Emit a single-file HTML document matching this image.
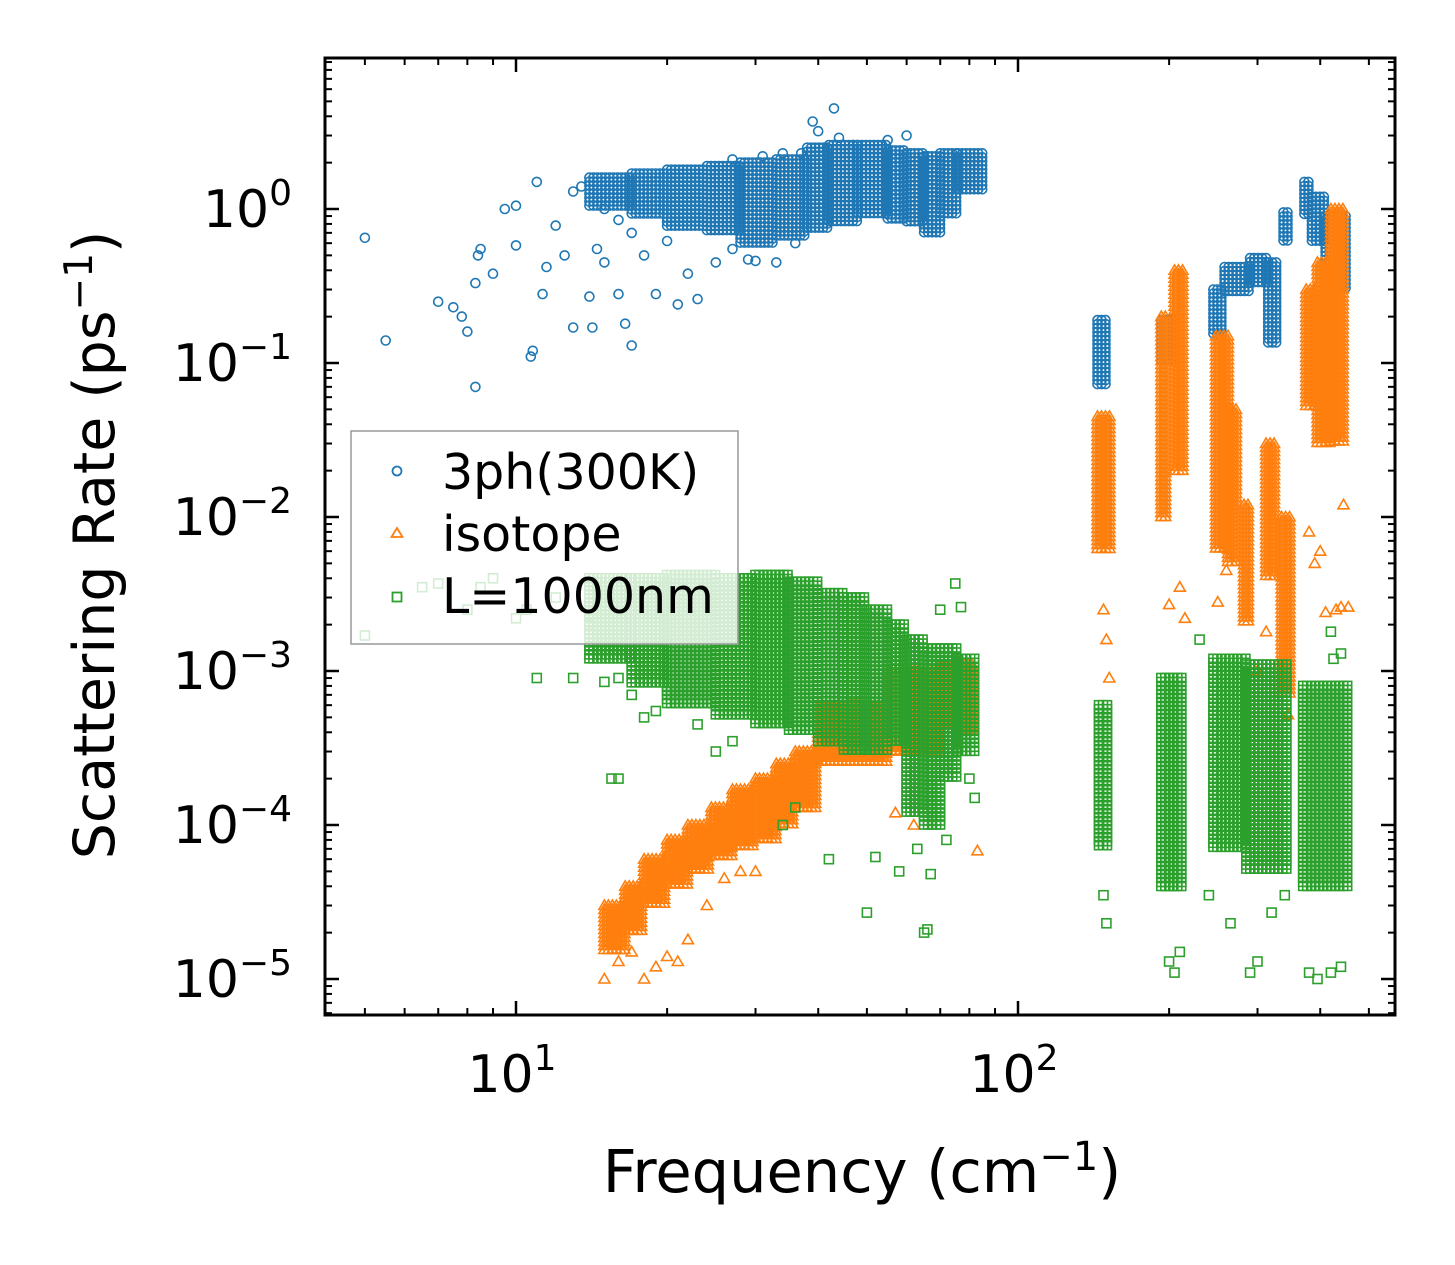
<!DOCTYPE html>
<html><head><meta charset="utf-8"><style>
body{margin:0;background:#fff}
svg{display:block;font-family:"DejaVu Sans","Liberation Sans",sans-serif}
</style></head><body>
<svg id="chart" width="1455" height="1265" viewBox="0 0 1455 1265" xmlns="http://www.w3.org/2000/svg">
<g id="marks"></g>
<g id="axes"></g>
<g>
<rect x="351" y="431" width="387" height="213" fill="#fff" fill-opacity="0.8" stroke="#999" stroke-width="1.5"/>
<circle cx="397" cy="471" r="4.5" fill="none" stroke="#1f77b4" stroke-width="1.8"/>
<text x="442" y="489" font-size="49">3ph(300K)</text>
<path d="M397,528 L402.5,537 L391.5,537 Z" fill="none" stroke="#ff7f0e" stroke-width="1.8"/>
<text x="442" y="551" font-size="49">isotope</text>
<rect x="392.5" y="592.5" width="9" height="9" fill="none" stroke="#2ca02c" stroke-width="1.8"/>
<text x="442" y="613" font-size="49">L=1000nm</text>
</g>
<text x="862" y="1192" font-size="59" text-anchor="middle">Frequency (cm<tspan dy="-22" font-size="40">−1</tspan><tspan dy="22">)</tspan></text>
<text transform="translate(114,545) rotate(-90)" font-size="57" text-anchor="middle">Scattering Rate (ps<tspan dy="-22" font-size="39">−1</tspan><tspan dy="22">)</tspan></text>
</svg>
<script>
// ---- data (frequency cm^-1, rate ps^-1) ----
// dense regions: [fLo, fHi, yLo, yHi]
const phRegions=[[14,17,1.0,1.6],[17,20,0.9,1.7],[20,24,0.75,1.8],[24,28,0.7,1.9],[28,33,0.6,2.0],[33,38,0.65,2.1],[38,42,0.75,2.5],[42,48,0.8,2.6],[48,55,0.9,2.6],[55,60,0.85,2.4],[60,65,0.8,2.3],[65,70,0.7,2.2],[70,76,0.9,2.3],[76,85,1.3,2.3],
[144,152,0.07,0.19],[193,205,0.1,0.19],[245,258,0.15,0.3],[258,290,0.28,0.42],[290,315,0.32,0.48],[315,330,0.13,0.45],[338,350,0.6,0.95],[372,385,0.9,1.5],[385,410,0.6,1.2],[410,450,0.3,0.9]];
const phPoints=[[5,0.65],[5.5,0.14],[7,0.25],[7.5,0.23],[7.8,0.2],[8,0.16],[8.3,0.07],[8.3,0.33],[8.5,0.55],[8.4,0.5],[9,0.38],[9.5,1.0],[10,1.05],[10,0.58],[10.7,0.11],[10.8,0.12],[11,1.5],[11.5,0.42],[11.3,0.28],[12,0.78],[12.5,0.5],[13,0.17],[13,1.3],[13.5,1.4],[14,0.27],[14.2,0.17],[14.5,0.55],[15,1.0],[15,0.45],[16,0.85],[16,0.28],[16.5,0.18],[17,0.13],[17,0.7],[18,0.5],[19,0.28],[20,0.62],[21,0.24],[22,0.38],[23,0.26],[25,0.45],[27,0.55],[29,0.47],[30,0.46],[33,0.45],[36,0.6],[40,3.2],[43,4.5],[39,3.7],[44,2.9],[60,3.0],[55,2.8],[47,2.6],[27,2.1],[31,2.2],[34,2.3],[37,2.3]];
const isoRegions=[[15,16.5,0.000015,0.00003],[16.5,18,0.00002,0.00004],[18,20,0.00003,0.00006],[20,22,0.00004,0.00008],[22,24.5,0.00005,0.0001],[24.5,27,0.00006,0.00013],[27,30,0.00007,0.00017],[30,33,0.00008,0.0002],[33,36,0.0001,0.00025],[36,40,0.00013,0.0003],[40,55,0.00025,0.0006],[55,70,0.0003,0.001],[70,82,0.0004,0.0011],
[144,153,0.006,0.045],[193,200,0.01,0.2],[205,215,0.02,0.4],[248,262,0.006,0.15],[262,275,0.005,0.05],[282,292,0.002,0.012],[312,325,0.004,0.03],[335,350,0.0007,0.01],[375,395,0.05,0.3],[395,420,0.03,0.45],[420,450,0.03,1.0]];
const isoPoints=[[15,0.00001],[16,0.000013],[17,0.000015],[18,0.00001],[19,0.000012],[20,0.000014],[21,0.000013],[22,0.000018],[24,0.00003],[26,0.000045],[28,0.00005],[30,0.00005],[83,0.000068],[62,0.0001],[57,0.00012],
[148,0.0025],[150,0.0016],[152,0.0009],[200,0.0027],[210,0.0035],[215,0.0022],[250,0.0028],[260,0.0045],[300,0.001],[312,0.0018],[345,0.00052],[390,0.005],[400,0.006],[410,0.0024],[430,0.0025],[455,0.0026],[440,0.0026],[445,0.012],[380,0.008]];
const bdRegions=[[14,17,0.0012,0.004],[17,20,0.0008,0.004],[20,25,0.0006,0.0042],[25,30,0.0005,0.004],[30,35,0.00045,0.0042],[35,40,0.0004,0.0038],[40,45,0.00035,0.0032],[45,50,0.0003,0.003],[50,55,0.0003,0.0025],[55,60,0.00035,0.002],[60,65,0.00012,0.0016],[65,70,0.0001,0.0014],[70,76,0.0002,0.0014],[76,83,0.0003,0.0012],
[145,152,0.00007,0.0006],[193,215,0.00004,0.0009],[245,285,0.00007,0.0012],[285,345,0.00005,0.0011],[370,455,0.00004,0.0008]];
const bdPoints=[[5,0.0017],[6.5,0.0035],[7,0.0037],[8,0.0025],[8.5,0.0035],[9,0.004],[10,0.0022],[10.5,0.0025],[11,0.0009],[12,0.003],[13,0.0009],[14,0.002],[15,0.00085],[15.5,0.0002],[16,0.0002],[16,0.0009],[17,0.0007],[18,0.0005],[19,0.00055],[23,0.00045],[25,0.0003],[27,0.00035],[36,0.00013],[34,0.0001],[42,0.00006],[50,0.000027],[52,0.000062],[58,0.00005],[65,0.00002],[66,0.000021],[67,0.000048],[63,0.00007],[72,0.00008],[80,0.0002],[82,0.00015],[75,0.0037],[77,0.0026],[70,0.0025],
[150,0.000023],[148,0.000035],[200,0.000013],[205,0.000011],[210,0.000015],[240,0.000035],[265,0.000023],[290,0.000011],[300,0.000013],[320,0.000027],[340,0.000035],[380,0.000011],[395,0.00001],[420,0.000011],[440,0.000012],[420,0.0018],[425,0.0012],[440,0.0013],[230,0.0016]];
const xTicks=[10,100];
const xTickExp=["1","2"];
const yTicks=[1,0.1,0.01,0.001,0.0001,0.00001];
const yTickExp=["0","−1","−2","−3","−4","−5"];

// ---- axes ----
const L=325,R=1395,T=58,B=1015;
const xScale=f=>516+502*(Math.log10(f)-1);
const yScale=v=>209-154*Math.log10(v);
const NS="http://www.w3.org/2000/svg";
function mk(tag,attrs,parent){const e=document.createElementNS(NS,tag);for(const k in attrs)e.setAttribute(k,attrs[k]);parent.appendChild(e);return e;}
const marks=document.getElementById('marks');
const axes=document.getElementById('axes');

function drawMarker(kind,f,v,g){
  const x=xScale(f),y=yScale(v);let e;
  if(kind==='c'){e=mk('circle',{cx:x.toFixed(1),cy:y.toFixed(1),r:4.5,fill:'none',stroke:'#1f77b4','stroke-width':1.6},g);}
  else if(kind==='t'){e=mk('path',{d:`M${x.toFixed(1)},${(y-5.5).toFixed(1)} l5.5,9.5 l-11,0 Z`,fill:'none',stroke:'#ff7f0e','stroke-width':1.6},g);}
  else{e=mk('rect',{x:(x-4.5).toFixed(1),y:(y-4.5).toFixed(1),width:9,height:9,fill:'none',stroke:'#2ca02c','stroke-width':1.6},g);}
  
  
}
function drawSeries(kind,regions,points,name){
  const g=mk('g',{},marks);
  
  
  regions.forEach(r=>{
    const x0=xScale(r[0]),x1=xScale(r[1]),y0=yScale(r[3]),y1=yScale(r[2]);
    for(let x=x0;x<=x1+0.1;x+=4){for(let y=y0;y<=y1+0.1;y+=4){
      const f=Math.pow(10,(x-516)/502+1),v=Math.pow(10,(209-y)/154);
      drawMarker(kind,f,v,g);}}
  });
  points.forEach(p=>drawMarker(kind,p[0],p[1],g));
}
drawSeries('c',phRegions,phPoints,'series-3ph-300K');
drawSeries('t',isoRegions,isoPoints,'series-isotope');
drawSeries('s',bdRegions,bdPoints,'series-L1000nm');

const cp=mk('clipPath',{id:'pc'},document.getElementById('chart'));
mk('rect',{x:L,y:T,width:R-L,height:B-T},cp);
marks.setAttribute('clip-path','url(#pc)');

function tick(x1,y1,x2,y2,w){const e=mk('line',{x1,y1,x2,y2,stroke:'#000','stroke-width':w},axes);}
for(let d=0;d<=3;d++){for(let m=1;m<=9;m++){const f=m*Math.pow(10,d);const x=xScale(f);if(x<L||x>R)continue;
  const len=m===1?14:7,w=m===1?2.5:2;tick(x,B,x,B-len,w);tick(x,T,x,T+len,w);}}
for(let d=-6;d<=1;d++){for(let m=1;m<=9;m++){const v=m*Math.pow(10,d);const y=yScale(v);if(y<T||y>B)continue;
  const len=m===1?14:7,w=m===1?2.5:2;tick(L,y,L+len,y,w);tick(R,y,R-len,y,w);}}
xTicks.forEach((f,i)=>{const t=mk('text',{x:xScale(f)-4,y:1092,'font-size':52,'text-anchor':'middle'},axes);
  
  t.textContent='10';const s=mk('tspan',{dy:-22,'font-size':36},t);s.textContent=xTickExp[i];});
yTicks.forEach((v,i)=>{const t=mk('text',{x:292,y:yScale(v)+18,'font-size':52,'text-anchor':'end'},axes);
  
  t.appendChild(document.createTextNode('10'));const s=mk('tspan',{dy:-22,'font-size':36},t);s.textContent=yTickExp[i];});
const fr=mk('rect',{x:L,y:T,width:R-L,height:B-T,fill:'none',stroke:'#000','stroke-width':3},axes);


</script>
</body></html>
